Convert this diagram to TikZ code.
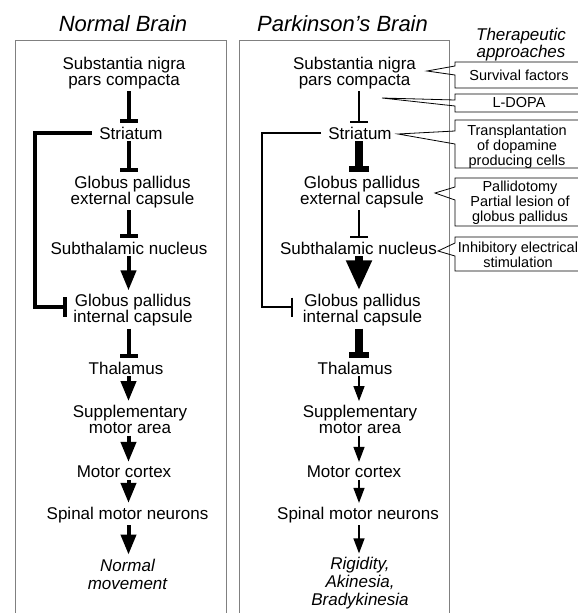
\documentclass[tikz,border=0pt]{standalone}
\usepackage{fontspec}
\setmainfont{Liberation Sans}
\usetikzlibrary{arrows.meta,calc}
\begin{document}
\begin{tikzpicture}[x=1pt,y=-1pt,
  lbl/.style={font=\fontsize{17}{16}\selectfont, align=center, inner sep=0pt},
  outc/.style={font=\fontsize{17}{18}\selectfont\itshape, align=center, inner sep=0pt},
  ttl/.style={font=\fontsize{22}{24}\selectfont\itshape, inner sep=0pt},
  thr/.style={font=\fontsize{17}{14}\selectfont\itshape, align=center, inner sep=0pt},
  boxt/.style={font=\fontsize{14.5}{15.2}\selectfont, align=center, inner sep=0pt},
  frame/.style={draw=black!50, line width=0.7pt},
  co/.style={draw=black, line width=0.8pt},
  ninh/.style={line width=4pt, -{Bar[width=18pt,line width=4pt]}},
  narr/.style={line width=4pt, -{Triangle[length=20pt,width=15pt]}},
  pthin/.style={line width=1.3pt, -{Bar[width=18pt,line width=1.5pt]}},
  pthick/.style={line width=8pt, -{Bar[width=20pt,line width=6pt]}},
  pbig/.style={line width=8pt, -{Triangle[length=30pt,width=24pt]}},
  parr/.style={line width=1.3pt, -{Triangle[length=15pt,width=11pt]}},
  gap/.style={shorten <=2pt, shorten >=4pt},
]
\useasboundingbox (0,0) rectangle (578,613);

% frames
\draw[frame] (15,613) -- (15,40) -- (226,40) -- (226,613);
\draw[frame] (239,613) -- (239,40) -- (449,40) -- (449,613);

% titles
\node[ttl] (tN) at (123,24) {Normal Brain};
\node[ttl] (tP) at (342.5,24) {Parkinson's Brain};
\node[thr] (tT) at (521,45) {Therapeutic\\approaches};

% axes
\coordinate (nAx) at (128.5,0);
\coordinate (pAx) at (359,0);
\coordinate (nL) at (35,0);
\coordinate (pL) at (262,0);

% normal column
\node[lbl] (nSN)  at (124,73)    {Substantia nigra\\pars compacta};
\node[lbl] (nStr) at (131,133)   {Striatum};
\node[lbl] (nGPe) at (132.5,192) {Globus pallidus\\external capsule};
\node[lbl] (nSTN) at (129,248)   {Subthalamic nucleus};
\node[lbl] (nGPi) at (133,310.5) {Globus pallidus\\internal capsule};
\node[lbl] (nTh)  at (126,368)   {Thalamus};
\node[lbl] (nSMA) at (130,419.5) {Supplementary\\motor area};
\node[lbl] (nMC)  at (124,472)   {Motor cortex};
\node[lbl] (nSMN) at (127.5,515) {Spinal motor neurons};
\node[outc] (nOut) at (127.5,574) {Normal\\movement};

% parkinson column
\node[lbl] (pSN)  at (354.5,73)  {Substantia nigra\\pars compacta};
\node[lbl] (pStr) at (360,133)   {Striatum};
\node[lbl] (pGPe) at (362,192)   {Globus pallidus\\external capsule};
\node[lbl] (pSTN) at (358.5,248) {Subthalamic nucleus};
\node[lbl] (pGPi) at (362.5,310.5) {Globus pallidus\\internal capsule};
\node[lbl] (pTh)  at (355,368)   {Thalamus};
\node[lbl] (pSMA) at (360,419.5) {Supplementary\\motor area};
\node[lbl] (pMC)  at (354,472)   {Motor cortex};
\node[lbl] (pSMN) at (358,515)   {Spinal motor neurons};
\node[outc] (pOut) at (360,583.5) {Rigidity,\\Akinesia,\\Bradykinesia};

% normal connectors
\draw[ninh,gap] (nSN.south -| nAx)  -- (nStr.north -| nAx);
\draw[ninh,gap] (nStr.south -| nAx) -- (nGPe.north -| nAx);
\draw[ninh,gap] (nGPe.south -| nAx) -- (nSTN.north -| nAx);
\draw[narr,gap] (nSTN.south -| nAx) -- (nGPi.north -| nAx);
\draw[ninh,gap] (nGPi.south -| nAx) -- (nTh.north -| nAx);
\draw[narr,gap] (nTh.south -| nAx)  -- (nSMA.north -| nAx);
\draw[narr,gap] (nSMA.south -| nAx) -- (nMC.north -| nAx);
\draw[narr,gap] (nMC.south -| nAx)  -- (nSMN.north -| nAx);
\draw[narr,gap] (nSMN.south -| nAx) -- (nOut.north -| nAx);
\draw[line width=4pt, -{Bar[width=20pt,line width=4pt]}]
  ([xshift=-7.5pt]nStr.west) -- (nStr.west -| nL) -- ([yshift=3.5pt]nGPi.west -| nL) -- ([xshift=-6pt,yshift=3.5pt]nGPi.west);

% parkinson connectors
\draw[pthin,gap]  (pSN.south -| pAx)  -- (pStr.north -| pAx);
\draw[pthick,gap] (pStr.south -| pAx) -- (pGPe.north -| pAx);
\draw[pthin,gap]  (pGPe.south -| pAx) -- (pSTN.north -| pAx);
\draw[pbig,gap]   (pSTN.south -| pAx) -- (pGPi.north -| pAx);
\draw[pthick,gap] (pGPi.south -| pAx) -- (pTh.north -| pAx);
\draw[parr,gap]   (pTh.south -| pAx)  -- (pSMA.north -| pAx);
\draw[parr,gap]   (pSMA.south -| pAx) -- (pMC.north -| pAx);
\draw[parr,gap]   (pMC.south -| pAx)  -- (pSMN.north -| pAx);
\draw[parr,gap]   (pSMN.south -| pAx) -- (pOut.north -| pAx);
\draw[line width=1.5pt, -{Bar[width=19pt,line width=1.5pt]}]
  ([xshift=-7pt]pStr.west) -- (pStr.west -| pL) -- ([yshift=3.5pt]pGPi.west -| pL) -- ([xshift=-10pt,yshift=3.5pt]pGPi.west);

% therapeutic callouts
\draw[co] (578,62) -- (455,62) -- (455,66) -- (427,71) -- (455,75) -- (455,88) -- (578,88);
\node[boxt] (b1) at (519,75) {Survival factors};
\draw[co] (578,94) -- (455,94) -- (455,100) -- (382,98) -- (455,106) -- (455,112) -- (578,112);
\node[boxt] (b2) at (519,103) {L-DOPA};
\draw[co] (578,120) -- (455,120) -- (455,131) -- (398,134) -- (455,144) -- (455,168) -- (578,168);
\node[boxt] (b3) at (517,147) {Transplantation\\of dopamine\\producing cells};
\draw[co] (578,178) -- (455,178) -- (455,187) -- (435,193) -- (455,200) -- (455,226) -- (578,226);
\node[boxt] (b4) at (520,202.5) {Pallidotomy\\Partial lesion of\\globus pallidus};
\draw[co] (578,237) -- (455,237) -- (455,243) -- (438,251) -- (455,256) -- (455,271) -- (578,271);
\node[boxt] (b5) at (518,254.5) {Inhibitory electrical\\stimulation};
\end{tikzpicture}
\end{document}
